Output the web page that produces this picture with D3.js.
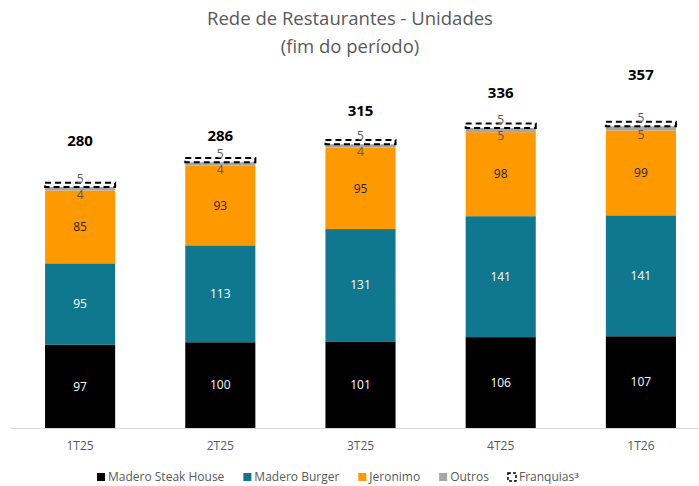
<!DOCTYPE html>
<html>
<head>
<meta charset="utf-8">
<script src="https://cdn.jsdelivr.net/npm/d3@7"></script>
<style>
    body { margin: 0; background: #fff; }
    svg { display: block; font-family: "Open Sans", sans-serif; }
</style>
</head>
<body>
<div id="chart"></div>
<script>
    // datos
    const periods = ["1T25", "2T25", "3T25", "4T25", "1T26"];
    const madero = [97, 100, 101, 106, 107];
    const burger = [95, 113, 131, 141, 141];
    const jeronimo = [85, 93, 95, 98, 99];
    const outros = [4, 4, 4, 5, 5];
    const franquias = [5, 5, 5, 5, 5];
    const totals = [280, 286, 315, 336, 357];

    const seriesKeys = ["madero", "burger", "jeronimo", "outros", "franquias"];
    const seriesNames = ["Madero Steak House", "Madero Burger", "Jeronimo", "Outros", "Franquias"];
    const colors = { madero: "#000000", burger: "#0F778E", jeronimo: "#FF9900", outros: "#A6A6A6", franquias: "#FFFFFF" };
    const labelColors = { madero: "#FFFFFF", burger: "#FFFFFF", jeronimo: "#262626", outros: "#595959", franquias: "#595959" };

    const rows = periods.map((p, i) => ({
        period: p,
        madero: madero[i],
        burger: burger[i],
        jeronimo: jeronimo[i],
        outros: outros[i],
        franquias: franquias[i],
        total: totals[i]
    }));

    const width = 699;
    const height = 486;

    const svg = d3.select("#chart")
        .append("svg")
        .attr("width", width)
        .attr("height", height);

    const x = d3.scaleBand()
        .domain(periods)
        .range([10, 711])
        .paddingInner(0.5)
        .paddingOuter(0.25);

    const y = d3.scaleLinear()
        .domain([0, 400])
        .range([428, 85]);

    // titulo
    const title = svg.append("text")
        .attr("x", 350)
        .attr("text-anchor", "middle")
        .attr("fill", "#595959")
        .style("font-size", "18.5px");
    title.append("tspan").attr("x", 350).attr("y", 25).text("Rede de Restaurantes - Unidades");
    title.append("tspan").attr("x", 350).attr("y", 53).text("(fim do período)");

    const stacked = d3.stack().keys(seriesKeys)(rows);

    const layers = svg.selectAll("g.layer")
        .data(stacked)
        .enter()
        .append("g")
        .attr("class", "layer");

    layers.selectAll("rect")
        .data(d => d.map(v => ({ key: d.key, v: v })))
        .enter()
        .append("rect")
        .attr("x", d => x(d.v.data.period))
        .attr("y", d => y(d.v[1]))
        .attr("width", x.bandwidth())
        .attr("height", d => y(d.v[0]) - y(d.v[1]))
        .attr("fill", d => colors[d.key])
        .attr("stroke", d => d.key === "franquias" ? "#000" : "none")
        .attr("stroke-width", 2)
        .attr("stroke-dasharray", d => d.key === "franquias" ? "6,4" : null);

    // etiquetas de cada segmento
    const labelShift = { madero: 0, burger: 0, jeronimo: 0, outros: 6, franquias: -6 };
    layers.selectAll("text")
        .data(d => d.map(v => ({ key: d.key, v: v })))
        .enter()
        .append("text")
        .attr("x", d => x(d.v.data.period) + x.bandwidth() / 2)
        .attr("y", d => (y(d.v[0]) + y(d.v[1])) / 2 + labelShift[d.key])
        .attr("dy", "0.35em")
        .attr("text-anchor", "middle")
        .attr("fill", d => labelColors[d.key])
        .style("font-size", "12px")
        .text(d => d.v.data[d.key]);

    // totales
    svg.append("g")
        .selectAll("text")
        .data(rows)
        .enter()
        .append("text")
        .attr("x", d => x(d.period) + x.bandwidth() / 2)
        .attr("y", d => y(d.total) - 47)
        .attr("dy", "0.35em")
        .attr("text-anchor", "middle")
        .attr("fill", "#000")
        .style("font-size", "15px")
        .style("font-weight", "bold")
        .text(d => d.total);

    // eje x
    const xAxis = svg.append("g")
        .attr("transform", "translate(0,428)")
        .call(d3.axisBottom(x).tickSize(0).tickPadding(13));
    xAxis.select(".domain").attr("stroke", "#D9D9D9").attr("d", "M10.5,0.5H711");
    xAxis.selectAll("text")
        .attr("fill", "#595959")
        .style("font-family", "Open Sans, sans-serif")
        .style("font-size", "12px");

    // leyenda
    const legend = svg.append("g").attr("transform", "translate(0,477)");
    let lx = 97;
    seriesKeys.forEach((k, i) => {
        const item = legend.append("g");
        item.append("rect")
            .attr("x", lx)
            .attr("y", -4)
            .attr("width", 8)
            .attr("height", 8)
            .attr("fill", colors[k])
            .attr("stroke", k === "franquias" ? "#000" : "none")
            .attr("stroke-width", 1.5)
            .attr("stroke-dasharray", k === "franquias" ? "3,2" : null);
        const t = item.append("text")
            .attr("x", lx + 11)
            .attr("dy", "0.35em")
            .attr("fill", "#595959")
            .style("font-size", "12px")
            .text(seriesNames[i]);
        if (k === "franquias") {
            t.append("tspan").attr("dy", "-0.4em").attr("fill", "#262626").style("font-size", "8px").text("3");
        }
        lx += 11 + t.node().getComputedTextLength() + 19;
    });
</script>
</body>
</html>
